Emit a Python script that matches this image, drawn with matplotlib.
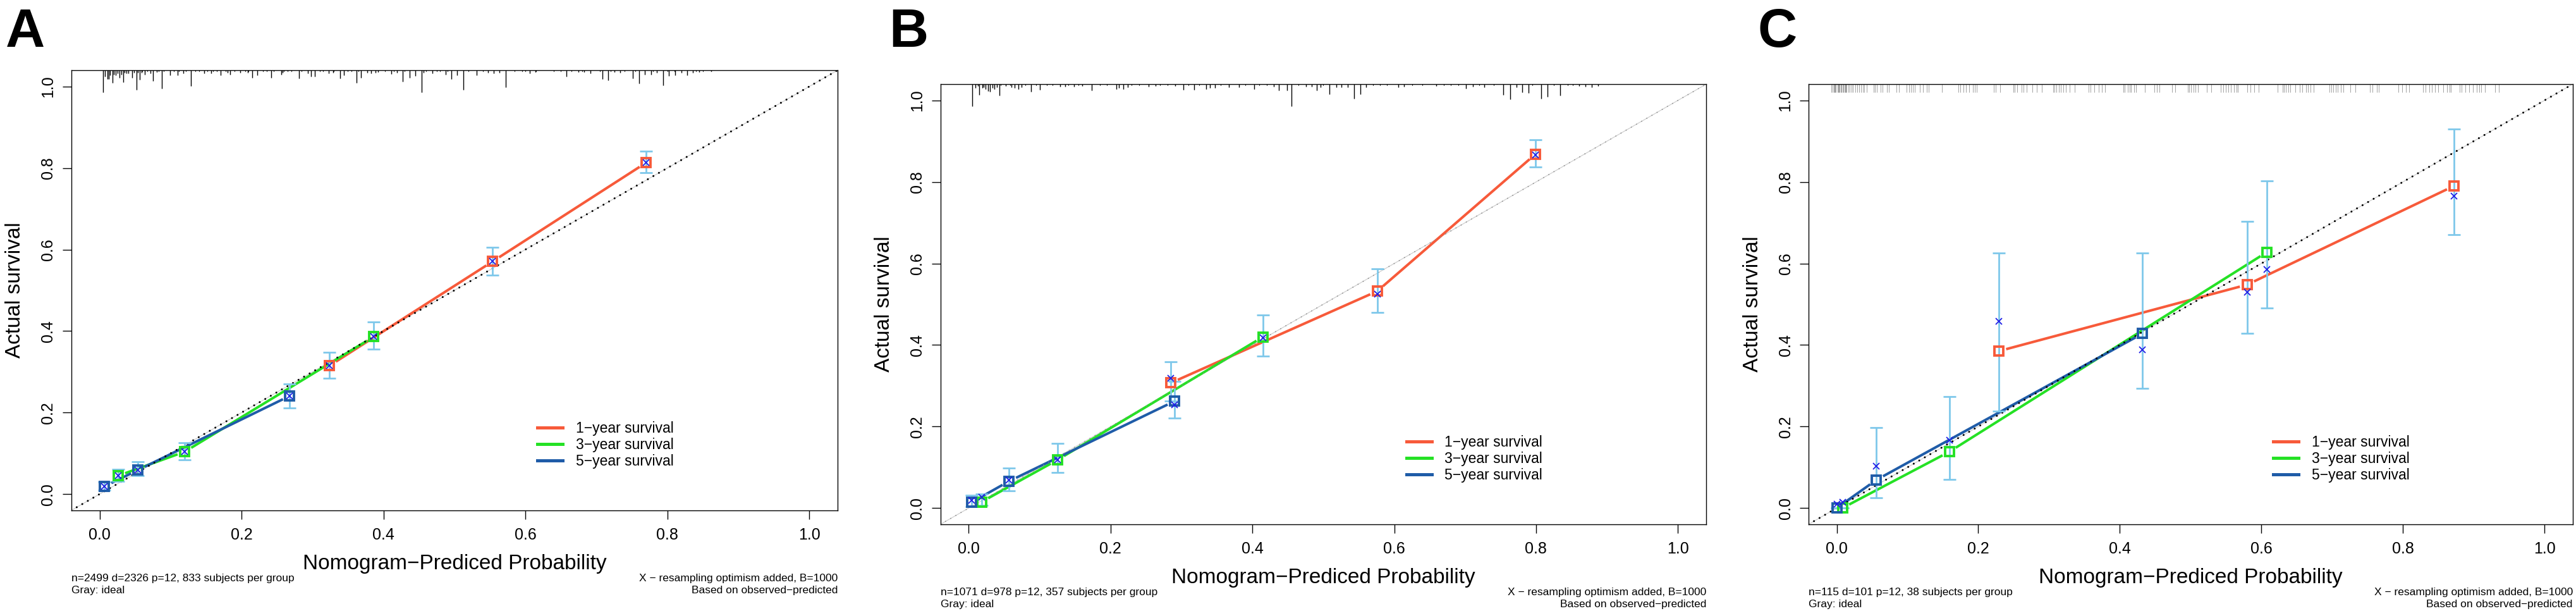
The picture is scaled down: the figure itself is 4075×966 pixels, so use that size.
import numpy as np
import matplotlib
matplotlib.use("Agg")
import matplotlib.pyplot as plt
from matplotlib.lines import Line2D
from matplotlib.transforms import offset_copy

plt.rcParams['font.family'] = ['Liberation Sans', 'DejaVu Sans']

# ---- data ----
series_names = ['1\u2212year survival', '3\u2212year survival', '5\u2212year survival']
series_colors = ['#f75a3a', '#25e125', '#1f5ca8']

# panel A (n=2499)
a_x = [[0.324, 0.554, 0.770], [0.026, 0.120, 0.386], [0.007, 0.054, 0.268]]
a_y = [[0.315, 0.571, 0.813], [0.045, 0.104, 0.386], [0.019, 0.059, 0.241]]
a_lo = [[0.284, 0.537, 0.788], [0.031, 0.084, 0.356], [0.010, 0.046, 0.211]]
a_hi = [[0.348, 0.605, 0.842], [0.061, 0.126, 0.422], [0.030, 0.079, 0.271]]
a_corr = [[0.315, 0.571, 0.813], [0.045, 0.104, 0.386], [0.019, 0.059, 0.241]]

# panel B (n=1071)
b_x = [[0.285, 0.576, 0.799], [0.018, 0.125, 0.415], [0.004, 0.057, 0.290]]
b_y = [[0.307, 0.532, 0.868], [0.015, 0.118, 0.420], [0.014, 0.066, 0.262]]
b_lo = [[0.262, 0.480, 0.836], [0.006, 0.088, 0.373], [0.004, 0.043, 0.221]]
b_hi = [[0.359, 0.587, 0.904], [0.035, 0.158, 0.473], [0.032, 0.098, 0.310]]
b_corr = [[0.319, 0.525, 0.866], [0.027, 0.118, 0.417], [0.019, 0.069, 0.254]]

# panel C (n=115)
c_x = [[0.229, 0.580, 0.872], [0.008, 0.159, 0.608], [0.000, 0.056, 0.432]]
c_y = [[0.385, 0.548, 0.790], [0.000, 0.138, 0.628], [0.000, 0.069, 0.428]]
c_lo = [[0.237, 0.428, 0.670], [0.000, 0.070, 0.491], [0.000, 0.025, 0.294]]
c_hi = [[0.626, 0.704, 0.930], [0.000, 0.273, 0.803], [0.000, 0.197, 0.626]]
c_corr = [[0.458, 0.529, 0.765], [0.014, 0.167, 0.585], [0.010, 0.102, 0.389]]

# distribution of predicted values (rug along the top)
rug_a_x = [0.0045, 0.0077, 0.0108, 0.0133, 0.0151, 0.0182, 0.0201, 0.0226, 0.0257, 0.0282,
           0.0307, 0.0331, 0.0356, 0.0381, 0.0406, 0.0456, 0.0481, 0.0518, 0.0543, 0.0562,
           0.0593, 0.0636, 0.0717, 0.0755, 0.0804, 0.0873, 0.0991, 0.1103, 0.1178, 0.1283,
           0.1470, 0.1569, 0.1706, 0.1800, 0.1843, 0.1986, 0.2092, 0.2154, 0.2223, 0.2416,
           0.2559, 0.2577, 0.2808, 0.2932, 0.2982, 0.3031, 0.3231, 0.3293, 0.3392, 0.3442,
           0.3623, 0.3685, 0.3772, 0.3828, 0.3884, 0.3927, 0.4108, 0.4195, 0.4270, 0.4369,
           0.4450, 0.4537, 0.4568, 0.4693, 0.4879, 0.4954, 0.5035, 0.5128, 0.5315, 0.5470,
           0.5551, 0.5638, 0.5725, 0.6061, 0.6142, 0.6578, 0.6746, 0.6826, 0.6920, 0.7088,
           0.7169, 0.7256, 0.7337, 0.7511, 0.7598, 0.7679, 0.7772, 0.7853, 0.7940, 0.8021,
           0.8108, 0.8195, 0.8282, 0.8363, 0.8450, 0.8618]
rug_a_h = [0.055, 0.016, 0.022, 0.021, 0.013, 0.031, 0.011, 0.013, 0.008, 0.018,
           0.011, 0.029, 0.006, 0.008, 0.008, 0.018, 0.006, 0.048, 0.006, 0.024,
           0.006, 0.011, 0.008, 0.026, 0.005, 0.045, 0.013, 0.013, 0.008, 0.039,
           0.008, 0.008, 0.013, 0.006, 0.011, 0.006, 0.006, 0.018, 0.013, 0.018,
           0.011, 0.006, 0.020, 0.008, 0.016, 0.016, 0.008, 0.006, 0.020, 0.013,
           0.031, 0.018, 0.006, 0.008, 0.006, 0.005, 0.010, 0.006, 0.028, 0.018,
           0.014, 0.055, 0.006, 0.008, 0.011, 0.021, 0.013, 0.048, 0.013, 0.006,
           0.008, 0.006, 0.042, 0.008, 0.005, 0.015, 0.005, 0.005, 0.007, 0.021,
           0.025, 0.005, 0.006, 0.020, 0.033, 0.011, 0.011, 0.006, 0.037, 0.014,
           0.013, 0.006, 0.013, 0.006, 0.005, 0.003]
rug_a_small = [0.060, 0.067, 0.083, 0.090, 0.105, 0.112, 0.122, 0.135, 0.140, 0.152, 0.160,
               0.165, 0.178, 0.190, 0.205, 0.210, 0.230, 0.236, 0.245, 0.260, 0.265, 0.270,
               0.285, 0.310, 0.315, 0.330, 0.350, 0.355, 0.365, 0.402, 0.415, 0.430, 0.460,
               0.475, 0.480, 0.490, 0.520, 0.540, 0.585, 0.595, 0.600, 0.615, 0.640, 0.650,
               0.665, 0.680, 0.705, 0.720, 0.740, 0.755, 0.780, 0.800, 0.810, 0.840, 0.850]

rug_b_x = [0.0051, 0.0095, 0.0126, 0.0151, 0.0188, 0.0213, 0.0238, 0.0269, 0.0300, 0.0331,
           0.0362, 0.0399, 0.0431, 0.0524, 0.0605, 0.0648, 0.0698, 0.0748, 0.0878, 0.1003,
           0.1289, 0.1364, 0.1482, 0.1600, 0.1737, 0.2085, 0.2116, 0.2179, 0.2241, 0.2533,
           0.2633, 0.2907, 0.3025, 0.3180, 0.3348, 0.3404, 0.3473, 0.3666, 0.3809, 0.4027,
           0.4300, 0.4369, 0.4487, 0.4555, 0.4760, 0.4835, 0.4910, 0.4960, 0.5084, 0.5184,
           0.5258, 0.5345, 0.5432, 0.5519, 0.5606, 0.6061, 0.6142, 0.6596, 0.7013, 0.7106,
           0.7274, 0.7541, 0.7635, 0.7728, 0.7809, 0.7896, 0.8076, 0.8163, 0.8338, 0.8611,
           0.8692, 0.8785, 0.8879]
rug_b_h = [0.055, 0.009, 0.004, 0.027, 0.009, 0.007, 0.012, 0.017, 0.018, 0.009,
           0.012, 0.007, 0.028, 0.004, 0.007, 0.009, 0.012, 0.007, 0.018, 0.014,
           0.006, 0.006, 0.006, 0.004, 0.016, 0.012, 0.009, 0.013, 0.007, 0.006,
           0.004, 0.004, 0.014, 0.014, 0.013, 0.009, 0.009, 0.007, 0.007, 0.013,
           0.006, 0.016, 0.016, 0.054, 0.006, 0.006, 0.016, 0.007, 0.025, 0.007,
           0.007, 0.007, 0.036, 0.025, 0.007, 0.007, 0.006, 0.004, 0.011, 0.006,
           0.008, 0.026, 0.038, 0.008, 0.020, 0.021, 0.036, 0.031, 0.028, 0.004,
           0.006, 0.007, 0.004]
rug_b_small = [0.045, 0.058, 0.080, 0.095, 0.110, 0.118, 0.140, 0.155, 0.185, 0.195, 0.230,
               0.240, 0.270, 0.280, 0.310, 0.325, 0.355, 0.390, 0.410, 0.420, 0.465, 0.500,
               0.570, 0.580, 0.590, 0.625, 0.640, 0.670, 0.680, 0.690, 0.720, 0.740, 0.795,
               0.825, 0.845, 0.852]

rug_c_x = [-0.008, -0.006, -0.004, -0.003, -0.002, -0.001, 0.001, 0.002, 0.003, 0.004,
           0.006, 0.007, 0.008, 0.009, 0.011, 0.012, 0.013, 0.014, 0.016, 0.018, 0.021,
           0.023, 0.026, 0.029, 0.032, 0.034, 0.037, 0.039, 0.042,
           0.052, 0.054, 0.057, 0.062, 0.065, 0.071, 0.074, 0.084, 0.088,
           0.099, 0.102, 0.105, 0.108, 0.110, 0.117, 0.122, 0.127, 0.130, 0.149,
           0.172, 0.175, 0.179, 0.183, 0.187, 0.192, 0.195, 0.198, 0.222, 0.225, 0.231,
           0.250, 0.251, 0.255, 0.261, 0.264, 0.268, 0.276, 0.283, 0.290,
           0.306, 0.308, 0.310, 0.314, 0.317, 0.320, 0.324, 0.329, 0.336,
           0.356, 0.359, 0.364, 0.370, 0.375, 0.379,
           0.405, 0.407, 0.411, 0.414, 0.416, 0.420, 0.423, 0.435, 0.449, 0.452, 0.456,
           0.474, 0.478, 0.496, 0.498, 0.501, 0.504, 0.507, 0.510, 0.523, 0.529,
           0.543, 0.546, 0.550, 0.553, 0.557, 0.561, 0.565, 0.567, 0.580, 0.585, 0.590, 0.596,
           0.623, 0.630, 0.632, 0.635, 0.638, 0.641, 0.648, 0.654, 0.658, 0.663, 0.666,
           0.669, 0.674, 0.696, 0.699, 0.702, 0.705, 0.708, 0.712, 0.716, 0.726, 0.733,
           0.753, 0.757, 0.763, 0.766, 0.794, 0.799, 0.804, 0.809,
           0.828, 0.832, 0.837, 0.841, 0.845, 0.850, 0.857, 0.862, 0.866, 0.868,
           0.880, 0.883, 0.888, 0.894, 0.899, 0.904, 0.908, 0.911, 0.916, 0.930, 0.936]

tick_vals = [0.0, 0.2, 0.4, 0.6, 0.8, 1.0]
tick_text = ['0.0', '0.2', '0.4', '0.6', '0.8', '1.0']

a_note = 'n=2499 d=2326 p=12, 833 subjects per group'
b_note = 'n=1071 d=978 p=12, 357 subjects per group'
c_note = 'n=115 d=101 p=12, 38 subjects per group'

ERR_COL = '#7ec8ea'
X_COL = '#1f1fe6'
LIM = (-0.04, 1.04)


def gapped_line(ax, xs, ys, gap, **kw):
    # R type="b": the segments stop short of each point
    pts = ax.transData.transform(np.column_stack([xs, ys]))
    inv = ax.transData.inverted()
    for p, q in zip(pts[:-1], pts[1:]):
        d = q - p
        L = np.hypot(d[0], d[1])
        if L <= 2 * gap:
            continue
        u = d / L
        seg = inv.transform(np.array([p + u * gap, q - u * gap]))
        ax.plot(seg[:, 0], seg[:, 1], solid_capstyle='butt', **kw)


fig = plt.figure(figsize=(40.75, 9.66), dpi=100)

panels = [
    dict(letter='A', lx=9, pos=[0.02763, 0.16460, 0.29755, 0.72050],
         x=a_x, y=a_y, lo=a_lo, hi=a_hi, corr=a_corr, note=a_note,
         rug=(rug_a_x, rug_a_h, rug_a_small), dots='black'),
    dict(letter='B', lx=1406, pos=[0.36506, 0.14182, 0.29730, 0.72050],
         x=b_x, y=b_y, lo=b_lo, hi=b_hi, corr=b_corr, note=b_note,
         rug=(rug_b_x, rug_b_h, rug_b_small), dots='gray'),
    dict(letter='C', lx=2780, pos=[0.70204, 0.14182, 0.29669, 0.72050],
         x=c_x, y=c_y, lo=c_lo, hi=c_hi, corr=c_corr, note=c_note,
         rug=None, dots='black'),
]

for p in panels:
    ax = fig.add_axes(p['pos'])
    ax.set_xlim(*LIM)
    ax.set_ylim(*LIM)

    # ideal line
    ax.plot(LIM, LIM, color='#cfcfcf', lw=0.9, zorder=1)
    if p['dots'] == 'black':
        ax.plot(LIM, LIM, color='black', lw=2.2, linestyle=(0, (0.01, 3.3)),
                dash_capstyle='round', zorder=4)
    else:
        ax.plot(LIM, LIM, color='#8a8a8a', lw=1.3, linestyle=(0, (0.01, 5.2)),
                dash_capstyle='round', zorder=4)

    # rug of predicted values
    if p['rug'] is not None:
        rx, rh, rs = p['rug']
        ax.vlines(rx, LIM[1] - np.array(rh), LIM[1], colors='black', lw=1.0, zorder=2)
        ax.vlines(rs, LIM[1] - 0.003, LIM[1], colors='black', lw=0.8, zorder=2)
    else:
        ax.vlines(rug_c_x, LIM[1] - 0.020, LIM[1], colors='#555555', lw=0.7,
                  alpha=0.55, zorder=2)

    for i in range(3):
        xs = np.array(p['x'][i])
        ys = np.array(p['y'][i])
        lo = np.array(p['lo'][i])
        hi = np.array(p['hi'][i])
        gapped_line(ax, xs, ys, 12, color=series_colors[i], lw=2.9, zorder=3 + i * 0.01)
        ax.errorbar(xs, ys, yerr=[ys - lo, hi - ys], fmt='none', ecolor=ERR_COL,
                    elinewidth=2.0, capsize=7, capthick=2.0, zorder=5)
        ax.plot(xs, ys, 's', ms=9.5, mfc='none', mec=series_colors[i], mew=2.8, zorder=6)
        ax.plot(xs, p['corr'][i], 'x', ms=6.5, mew=1.3, color=X_COL, zorder=7)

    ax.set_xticks(tick_vals)
    ax.set_xticklabels(tick_text)
    ax.set_yticks(tick_vals)
    ax.set_yticklabels(tick_text, rotation=90, va='center')
    ax.tick_params(axis='both', length=10, width=1.0, labelsize=18)
    ax.tick_params(axis='x', pad=9.5)
    ax.tick_params(axis='y', pad=7.5)
    for s in ax.spines.values():
        s.set_linewidth(1.0)

    ax.set_xlabel('Nomogram\u2212Prediced Probability', fontsize=24, labelpad=13)
    ax.set_ylabel('Actual survival', fontsize=24, labelpad=18)

    handles = [Line2D([], [], color=c, lw=3.6) for c in series_colors]
    ax.legend(handles, series_names, loc='upper left', bbox_to_anchor=(0.6083, 0.202),
              frameon=False, fontsize=16.5, handlelength=1.75, handletextpad=0.9,
              labelspacing=0.12, borderpad=0, borderaxespad=0)

    for dy, left, right in [(-112, p['note'], 'X \u2212 resampling optimism added, B=1000'),
                            (-131, 'Gray: ideal', 'Based on observed\u2212predicted')]:
        tl = offset_copy(ax.transAxes, fig=fig, x=0, y=dy, units='dots')
        ax.text(0, 0, left, transform=tl, ha='left', va='baseline', fontsize=12.5)
        ax.text(1, 0, right, transform=tl, ha='right', va='baseline', fontsize=12.5)

    fig.text(p['lx'] / 4075, 1 - 74 / 966, p['letter'], fontsize=62, fontweight='bold',
             ha='left', va='baseline')

fig.savefig('out.png', dpi=100)
